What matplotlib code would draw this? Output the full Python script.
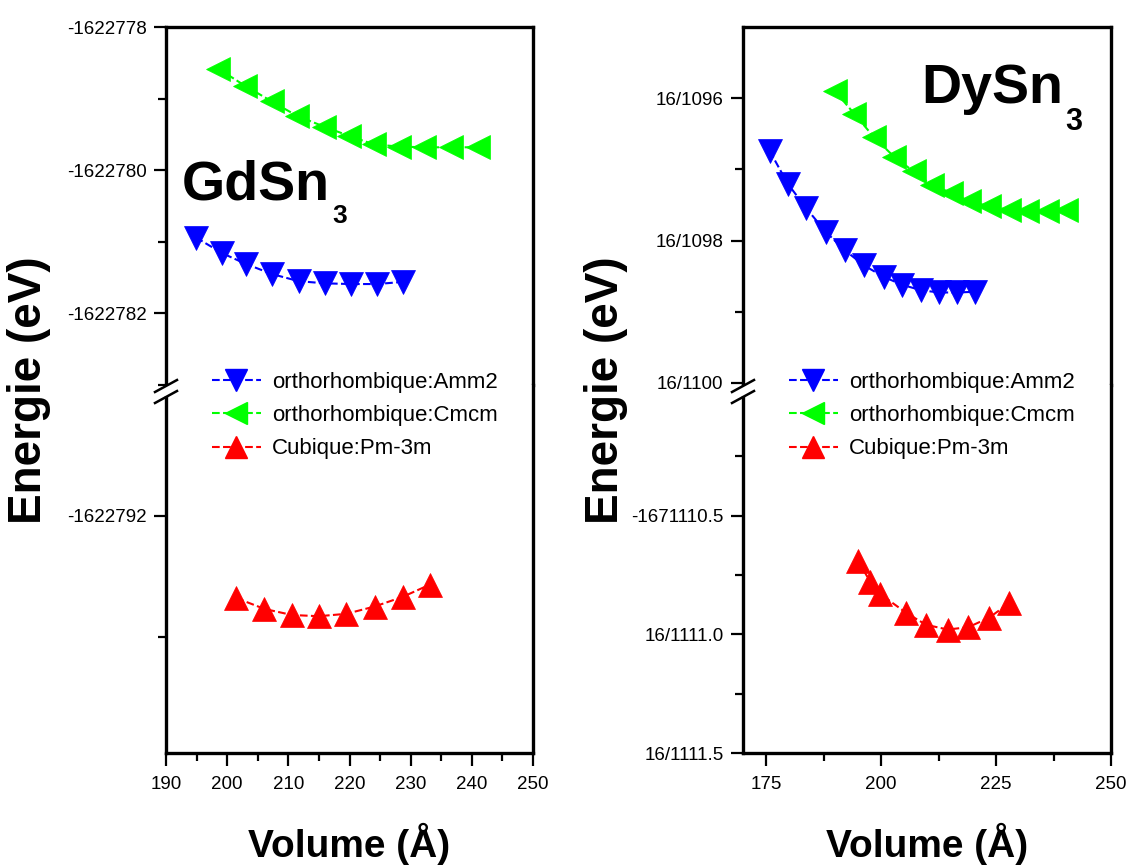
import matplotlib
matplotlib.use("Agg")
import matplotlib.pyplot as plt
from matplotlib.lines import Line2D
from matplotlib.patches import Rectangle

plt.rcParams["font.family"] = ["Liberation Sans", "DejaVu Sans"]

# GdSn3
gd_amm2_vol = [194.9, 199.2, 203.1, 207.3, 211.7, 216.0, 220.2, 224.5, 228.7]
gd_amm2_e = [-1622780.94, -1622781.16, -1622781.31, -1622781.45, -1622781.55,
             -1622781.58, -1622781.59, -1622781.59, -1622781.56]
gd_cmcm_vol = [198.5, 202.9, 207.3, 211.4, 215.8, 219.9, 224.0, 228.1, 232.2, 236.6, 241.0]
gd_cmcm_e = [-1622778.58, -1622778.82, -1622779.04, -1622779.24, -1622779.39, -1622779.52,
             -1622779.64, -1622779.67, -1622779.68, -1622779.68, -1622779.68]
gd_pm3m_vol = [201.5, 206.1, 210.6, 215.0, 219.5, 224.1, 228.7, 233.1]
gd_pm3m_e = [-1622792.68, -1622792.77, -1622792.82, -1622792.83, -1622792.81,
             -1622792.75, -1622792.67, -1622792.57]

# DySn3
dy_amm2_vol = [175.8, 179.7, 183.8, 188.0, 192.2, 196.3, 200.6, 204.5, 208.8, 212.7, 216.6, 220.5]
dy_amm2_e = [-1671096.74, -1671097.20, -1671097.55, -1671097.88, -1671098.14, -1671098.35,
             -1671098.51, -1671098.62, -1671098.70, -1671098.73, -1671098.73, -1671098.72]
dy_cmcm_vol = [190.0, 194.2, 198.5, 202.8, 207.1, 211.0, 215.3, 219.2, 223.5, 227.8, 231.7, 236.0, 240.3]
dy_cmcm_e = [-1671095.90, -1671096.22, -1671096.55, -1671096.82, -1671097.03, -1671097.22,
             -1671097.33, -1671097.45, -1671097.52, -1671097.57, -1671097.59, -1671097.59,
             -1671097.57]
dy_pm3m_vol = [195.0, 197.7, 199.8, 205.5, 209.8, 214.5, 219.0, 223.5, 227.8]
dy_pm3m_e = [-1671110.69, -1671110.78, -1671110.83, -1671110.91, -1671110.96,
             -1671110.98, -1671110.97, -1671110.93, -1671110.87]

SERIES_LABELS = ["orthorhombique:Amm2", "orthorhombique:Cmcm", "Cubique:Pm-3m"]
COLORS = ["#0000FF", "#00FF00", "#FF0000"]
MARKERS = ["v", "<", "^"]

# axis ticks
gd_xticks = [190, 200, 210, 220, 230, 240, 250]
gd_up_ticks = [-1622778, -1622780, -1622782]
gd_up_labels = ["-1622778", "-1622780", "-1622782"]
gd_lo_ticks = [-1622792]
gd_lo_labels = ["-1622792"]
dy_xticks = [175, 200, 225, 250]
dy_up_ticks = [-1671096, -1671098, -1671100]
dy_up_labels = ["16/1096", "16/1098", "16/1100"]
dy_lo_ticks = [-1671110.5, -1671111.0, -1671111.5]
dy_lo_labels = ["-1671110.5", "16/1111.0", "16/1111.5"]

W, H = 1133, 866
TOP, BRK, BOT = 27, 385, 753


def fx(px):
    return px / W


def fy(py):
    return 1 - py / H


fig = plt.figure(figsize=(W / 100, H / 100), dpi=100)


def style(ax):
    for s in ax.spines.values():
        s.set_linewidth(2.4)
    ax.tick_params(which="both", direction="out", right=False, top=False, width=1.6,
                   labelsize=13.5)
    ax.tick_params(which="major", length=9)
    ax.tick_params(which="minor", length=6)
    ax.tick_params(axis="y", pad=5)
    ax.tick_params(axis="x", pad=7.5)


def panel(x0, x1, xlim, xticks, xminor, up, lo, data):
    w = fx(x1) - fx(x0)
    ax_up = fig.add_axes([fx(x0), fy(BRK), w, (BRK - TOP) / H])
    ax_lo = fig.add_axes([fx(x0), fy(BOT), w, (BOT - BRK) / H])
    for ax in (ax_up, ax_lo):
        style(ax)
        ax.set_xlim(*xlim)
        for (vol, e), c, m in zip(data, COLORS, MARKERS):
            ax.plot(vol, e, linestyle="--", lw=1.5, color=c, marker=m, markersize=17,
                    markeredgecolor=c, markeredgewidth=0.5)
    ax_up.spines["bottom"].set_visible(False)
    ax_up.tick_params(axis="x", which="both", bottom=False, labelbottom=False)
    ax_lo.spines["top"].set_visible(False)
    ax_lo.set_xticks(xticks)
    ax_lo.set_xticks(xminor, minor=True)
    lim, ticks, labels, minor = up
    ax_up.set_ylim(*lim)
    ax_up.set_yticks(ticks, labels)
    ax_up.set_yticks(minor, minor=True)
    lim, ticks, labels, minor = lo
    ax_lo.set_ylim(*lim)
    ax_lo.set_yticks(ticks, labels)
    ax_lo.set_yticks(minor, minor=True)

    # break mark on the left spine
    fig.add_artist(Rectangle((fx(x0 - 4), fy(396)), 8 / W, 10 / H, transform=fig.transFigure,
                             facecolor="white", edgecolor="none", zorder=5))
    for yb in (386, 397):
        fig.add_artist(Line2D([fx(x0 - 11), fx(x0 + 11)], [fy(yb + 6), fy(yb - 6)],
                              transform=fig.transFigure, color="black", lw=1.8, zorder=6))

    handles = [Line2D([], [], linestyle="--", lw=1.5, color=c, marker=m, markersize=16,
                      markeredgecolor=c) for c, m in zip(COLORS, MARKERS)]
    fig.legend(handles, SERIES_LABELS, loc="upper left",
               bbox_to_anchor=(fx(x0 + 46), fy(372)), frameon=False, fontsize=16,
               borderpad=0, borderaxespad=0, handlelength=2.2, handletextpad=0.5,
               labelspacing=0.55, numpoints=1)

    fig.text(fx(x0 - 137), fy((TOP + BOT) / 2), "Energie (eV)", rotation=90,
             fontsize=33, fontweight="bold", ha="center", va="center")
    fig.text(fx((x0 + x1) / 2), fy(857), "Volume (Å)", fontsize=28,
             fontweight="bold", ha="center", va="baseline")
    return ax_up, ax_lo


def formula(x, y, base, sub, size, sub_size, drop):
    t = fig.text(fx(x), fy(y), base, fontsize=size, fontweight="bold", va="baseline")
    fig.canvas.draw()
    bb = t.get_window_extent()
    fig.text(bb.x1 / W + 2 / W, fy(y + drop), sub, fontsize=sub_size,
             fontweight="bold", va="baseline")


panel(166, 533, (190, 250), gd_xticks, [195, 205, 215, 225, 235, 245],
      ((-1622783.0, -1622778), gd_up_ticks, gd_up_labels, [-1622779, -1622781, -1622783]),
      ((-1622793.96, -1622790.92), gd_lo_ticks, gd_lo_labels, [-1622793]),
      [(gd_amm2_vol, gd_amm2_e), (gd_cmcm_vol, gd_cmcm_e), (gd_pm3m_vol, gd_pm3m_e)])

panel(743, 1111, (170, 250), dy_xticks, [187.5, 212.5, 237.5],
      ((-1671100.03, -1671095.0), dy_up_ticks, dy_up_labels, [-1671097, -1671099]),
      ((-1671111.5, -1671109.95), dy_lo_ticks, dy_lo_labels,
       [-1671110.25, -1671110.75, -1671111.25]),
      [(dy_amm2_vol, dy_amm2_e), (dy_cmcm_vol, dy_cmcm_e), (dy_pm3m_vol, dy_pm3m_e)])

formula(182, 200, "GdSn", "3", 40, 19, 23)
formula(921, 103, "DySn", "3", 40, 22, 27)

fig.savefig("out.png", dpi=100)
